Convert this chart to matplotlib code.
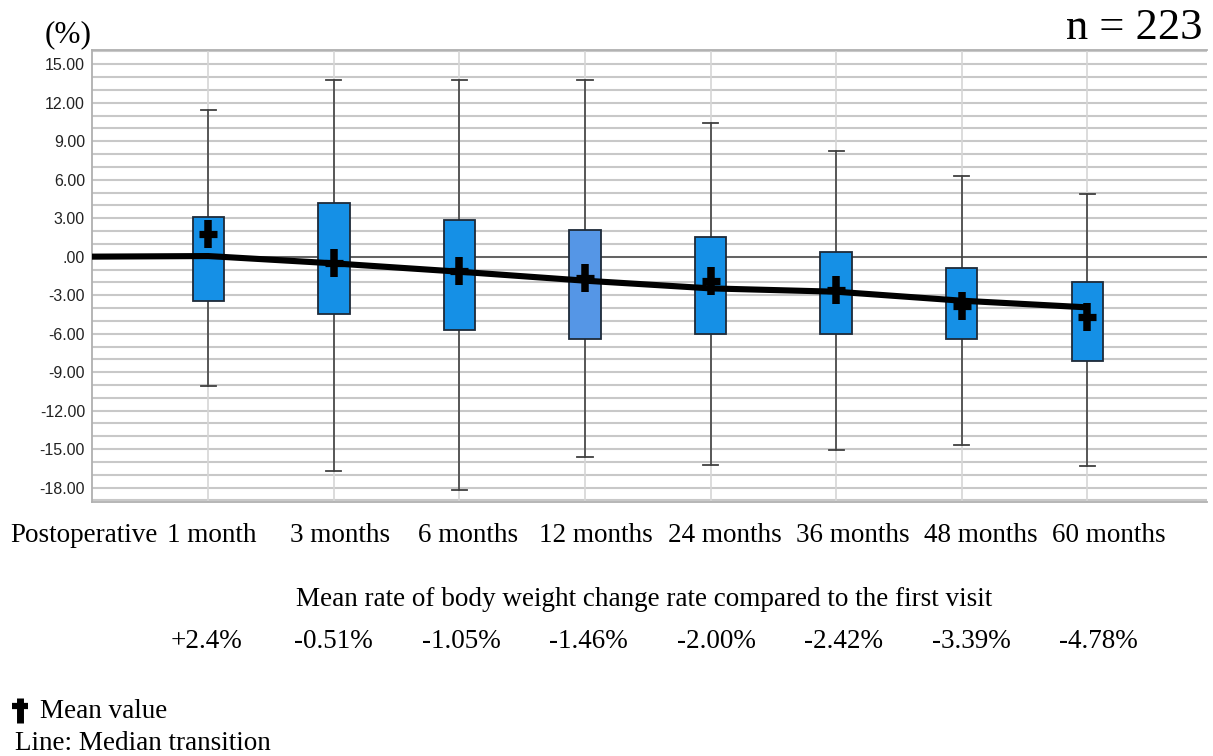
import numpy as np
import matplotlib
matplotlib.use('Agg')
import matplotlib.pyplot as plt
from matplotlib.ticker import MultipleLocator, FuncFormatter
from matplotlib.lines import Line2D
import matplotlib.transforms as mtransforms

# data
categories = ['Postoperative', '1 month', '3 months', '6 months', '12 months',
              '24 months', '36 months', '48 months', '60 months']
whisk_hi = [11.4, 13.8, 13.8, 13.8, 10.4, 8.2, 6.3, 4.9]
q3 = [3.1, 4.15, 2.85, 2.1, 1.5, 0.4, -0.9, -2.0]
q1 = [-3.45, -4.5, -5.7, -6.4, -6.05, -6.0, -6.45, -8.1]
whisk_lo = [-10.05, -16.7, -18.2, -15.6, -16.25, -15.05, -14.7, -16.35]
means = [1.8, -0.51, -1.08, -1.69, -1.91, -2.63, -3.83, -4.71]
medians = [0.0, 0.05, -0.52, -1.17, -1.87, -2.47, -2.73, -3.43, -3.95]  # incl. postoperative
mean_rate_labels = ['+2.4%', '-0.51%', '-1.05%', '-1.46%', '-2.00%', '-2.42%', '-3.39%', '-4.78%']
box_colors = ['#1590e6', '#1590e6', '#1590e6', '#5596e6',
              '#1590e6', '#1590e6', '#1590e6', '#1590e6']

serif = 'Liberation Serif'
sans = 'Liberation Sans'
fs = 19.5

fig = plt.figure(figsize=(12.13, 7.56), dpi=100)
ax = fig.add_axes([92 / 1213, 1 - 502 / 756, (1207 - 92) / 1213, (502 - 50) / 756])

pos = np.arange(1, len(categories))

# gridlines
for y in range(-19, 17):
    ax.axhline(y, color='#c8c8c8', lw=1.5, zorder=0)
for x in pos:
    ax.axvline(x, color='#d6d6d6', lw=1.2, zorder=0)
ax.axhline(0, color='#505050', lw=1.2, zorder=1)

stats = []
for i in range(len(pos)):
    stats.append(dict(med=np.nan, q1=q1[i], q3=q3[i], whislo=whisk_lo[i],
                      whishi=whisk_hi[i], fliers=[]))
bp = ax.bxp(stats, positions=pos, widths=0.25, capwidths=0.12, patch_artist=True,
            showfliers=False,
            boxprops=dict(edgecolor='#1e2a38', linewidth=1.3),
            whiskerprops=dict(color='#404040', linewidth=1.2),
            capprops=dict(color='#404040', linewidth=1.3),
            medianprops=dict(linewidth=0))
for patch, c in zip(bp['boxes'], box_colors):
    patch.set_facecolor(c)
    patch.set_zorder(3)

# median transition
ax.plot(np.arange(len(categories)), medians, color='black', lw=4.4,
        solid_capstyle='butt', zorder=4)

# mean crosses
ax.plot(pos, means, ls='none', marker='|', markersize=20, mew=5.4, color='black', zorder=5)
ax.plot(pos, means, ls='none', marker='_', markersize=13, mew=5.2, color='black', zorder=5)

ax.set_xlim(0.074, 8.953)
ax.set_ylim(-19.12, 16.11)
ax.yaxis.set_major_locator(MultipleLocator(3))
ax.yaxis.set_major_formatter(FuncFormatter(
    lambda v, p: '.00' if abs(v) < 1e-9 else '%.2f' % v))
ax.tick_params(axis='y', length=0, pad=5, labelsize=11.5, labelcolor='#222222')
for lab in ax.get_yticklabels():
    lab.set_fontfamily(sans)
ax.set_xticks([])
for s in ['top', 'bottom', 'left']:
    ax.spines[s].set_color('#b0b0b0')
    ax.spines[s].set_linewidth(1.3)
ax.spines['right'].set_visible(False)

# category labels and mean rates below the axis
trans = mtransforms.blended_transform_factory(ax.transData, fig.transFigure)
for i, lab in enumerate(categories):
    ax.text(i * 1.02 + 0.01, 1 - 535 / 756, lab, transform=trans, ha='center', va='center',
            fontsize=fs, family=serif, clip_on=False)
for i, lab in enumerate(mean_rate_labels):
    ax.text((i + 1) * 1.015 - 0.03, 1 - 641 / 756, lab, transform=trans, ha='center',
            va='center', fontsize=fs, family=serif, clip_on=False)

fig.text(644 / 1213, 1 - 600 / 756, 'Mean rate of body weight change rate compared to the first visit',
         ha='center', va='center', fontsize=fs, family=serif)
fig.text(45 / 1213, 1 - 35 / 756, '(%)', ha='left', va='center', fontsize=22.5, family=serif)
fig.text(1203 / 1213, 1 - 28 / 756, 'n = 223', ha='right', va='center', fontsize=32, family=serif)

# legend notes
fig.add_artist(Line2D([20 / 1213], [1 - 710 / 756], marker='|', markersize=18, mew=5,
                      color='black', transform=fig.transFigure))
fig.add_artist(Line2D([20 / 1213], [1 - 706 / 756], marker='_', markersize=12, mew=4.5,
                      color='black', transform=fig.transFigure))
fig.text(40 / 1213, 1 - 712 / 756, 'Mean value', ha='left', va='center', fontsize=fs, family=serif)
fig.text(15 / 1213, 1 - 743 / 756, 'Line: Median transition', ha='left', va='center',
         fontsize=fs, family=serif)

fig.savefig('out.png', dpi=100)
